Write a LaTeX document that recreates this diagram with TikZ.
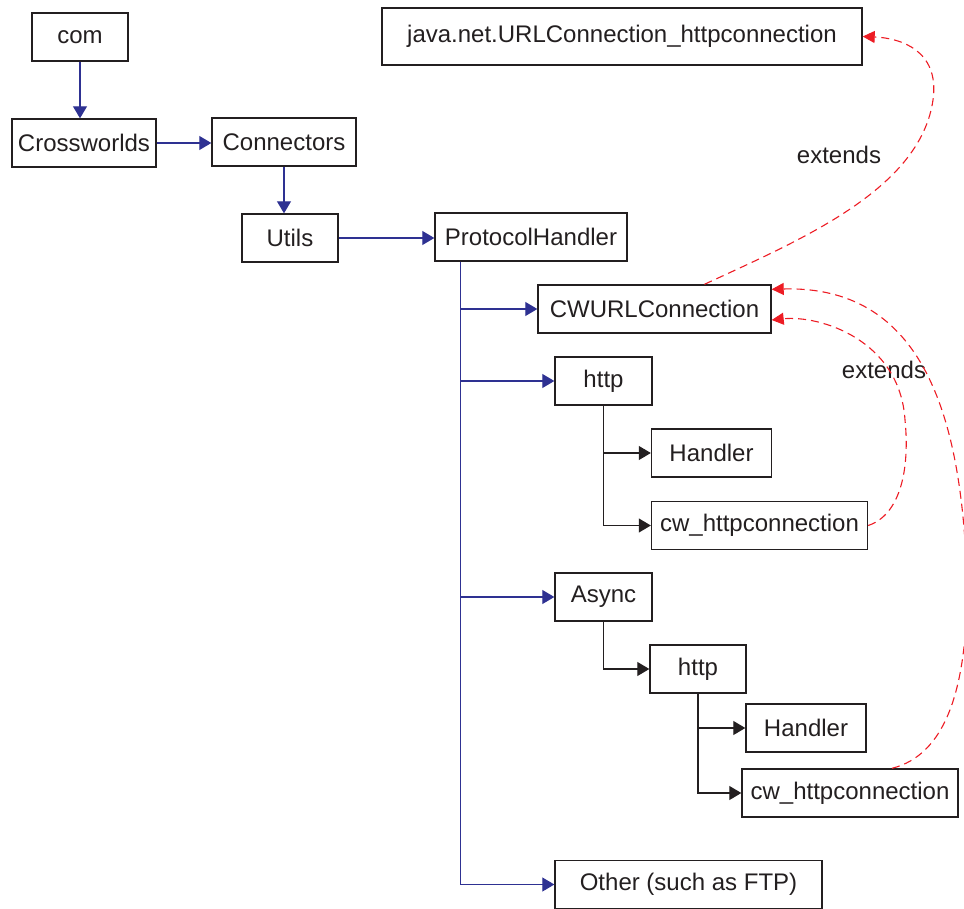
\documentclass[tikz,border=0pt]{standalone}
\usepackage{fontspec}
\setmainfont{Liberation Sans}
\usetikzlibrary{arrows.meta,positioning,calc}
\definecolor{linkblue}{RGB}{46,49,146}
\definecolor{boxblack}{RGB}{35,31,32}
\definecolor{extred}{RGB}{237,28,36}

\begin{document}
\begin{tikzpicture}[x=0.5pt,y=-0.5pt,
  box/.style={draw=boxblack,line width=0.7pt,minimum height=24pt,inner sep=0pt,text=boxblack,font=\fontsize{12}{14}\selectfont},
  bluearr/.style={draw=linkblue,line width=0.6pt,-{Triangle[length=6pt,width=7pt]}},
  blackarr/.style={draw=boxblack,line width=0.6pt,-{Triangle[length=6pt,width=7pt]}},
  extarr/.style={draw=extred,line width=0.55pt,dash pattern=on 4pt off 2.5pt,-{Triangle[length=6pt,width=6pt]}},
  lbl/.style={text=boxblack,font=\fontsize{12}{14}\selectfont}]
\useasboundingbox (0,0) rectangle (964,909);

% Package boxes
\node[box,minimum width=48pt] (com) at (80,37) {com};
\node[box,minimum width=72pt] (cross) at (84,143) {Crossworlds};
\node[box,minimum width=72pt] (conn) at (284,142) {Connectors};
\node[box,minimum width=48pt] (utils) at (290,238) {Utils};
\node[box,minimum width=96pt] (proto) at (531,237) {ProtocolHandler};
\node[box,minimum width=240pt,minimum height=28.5pt] (java) at (622,36.5) {java.net.URLConnection\_httpconnection};

% Classes below ProtocolHandler
\node[box,minimum width=116.5pt] (cwurl) at (654.5,309) {CWURLConnection};
\node[box,minimum width=48.5pt] (http) at (603.5,381) {http};
\node[box,minimum width=60pt] (handler) at (711.5,453) {Handler};
\node[box,minimum width=108pt] (cwhttp) at (759.5,525.5) {cw\_httpconnection};
\node[box,minimum width=48.5pt] (async) at (603.5,597) {Async};
\node[box,minimum width=48pt] (ahttp) at (698,669) {http};
\node[box,minimum width=60pt] (ahandler) at (806,728) {Handler};
\node[box,minimum width=108pt] (acwhttp) at (850,793) {cw\_httpconnection};
\node[box,minimum width=133.5pt] (other) at (688.5,884.5) {Other (such as FTP)};

% Labels for the extends links
\node[lbl] (ext1) at (839,155) {extends};
\node[lbl] (ext2) at (884,370) {extends};

% Package tree
\draw[bluearr] (com.south) -- (com.south |- cross.north);
\draw[bluearr] (cross.east) -- (cross.east -| conn.west);
\draw[bluearr] (conn.south) -- (conn.south |- utils.north);
\draw[bluearr] (utils.east) -- (utils.east -| proto.west);

\coordinate (trunk) at ($(proto.south west)+(26,0)$);
\foreach \n in {cwurl,http,async,other}{
    \draw[bluearr] (trunk) |- (\n.west);
}

\draw[blackarr] (http.south) |- (handler.west);
\draw[blackarr] (http.south) |- (cwhttp.west);
\draw[blackarr] (async.south) |- (ahttp.west);
\draw[blackarr] (ahttp.south) |- (ahandler.west);
\draw[blackarr] (ahttp.south) |- (acwhttp.west);

% extends links
\draw[extarr] ($(cwurl.north)+(50,0)$) .. controls (800,240) and (920,190) .. (933,100)
    .. controls (940,50) and (900,38) .. (java.east);
\draw[extarr] (cwhttp.east) .. controls (900,515) and (910,470) .. (905,420)
    .. controls (900,340) and (820,315) .. ($(cwurl.east)+(0,11)$);
\draw[extarr] ($(acwhttp.north)+(42,0)$) .. controls (945,755) and (968,690) .. (967,580)
    .. controls (962,430) and (930,285) .. ($(cwurl.north east)+(0,5)$);

\end{tikzpicture}
\end{document}
